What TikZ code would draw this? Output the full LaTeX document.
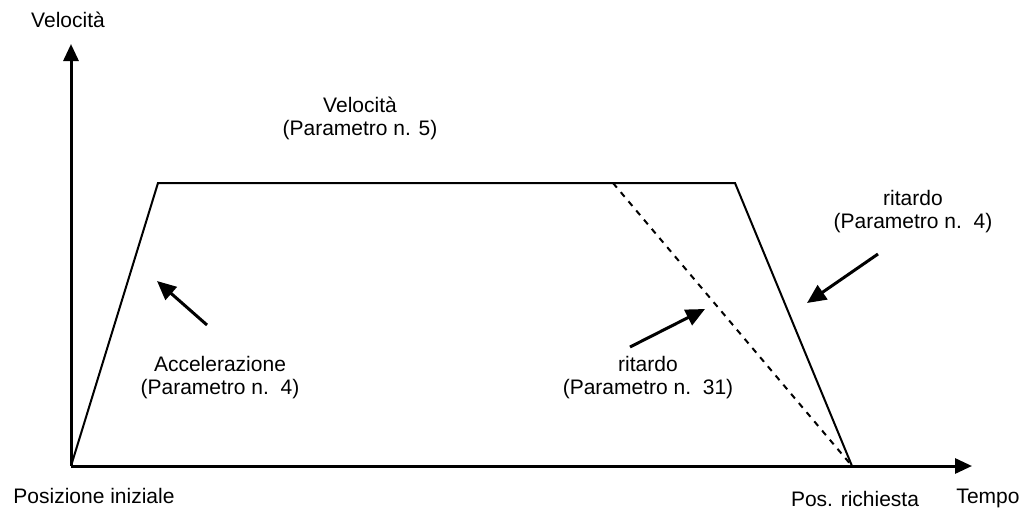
\documentclass[tikz,border=0pt]{standalone}
\usepackage{fontspec}
\setmainfont{Liberation Sans}
\usetikzlibrary{arrows.meta}
\begin{document}
\begin{tikzpicture}[x=1pt,y=-1pt,
  axis/.style={line width=3pt,-{Triangle[length=17pt,width=15pt]}},
  profile/.style={line width=2pt,line join=miter},
  hint/.style={line width=3pt,-{Triangle[length=19pt,width=17pt]}},
  lbl/.style={font=\fontsize{21}{23}\selectfont,align=center,inner sep=0pt,anchor=base}]
\useasboundingbox (0,0) rectangle (1021,509);
\coordinate (O) at (71,466);
\coordinate (Ytip) at (71,44);
\coordinate (Xtip) at (972,466);
\coordinate (A) at (158,183);
\coordinate (B) at (735,183);
\coordinate (C) at (852,466);
\coordinate (D) at (613,183);
\coordinate (a1) at (207,325);
\coordinate (a2) at (157,281);
\coordinate (m1) at (630,347);
\coordinate (m2) at (705,309);
\coordinate (r1) at (878,254);
\coordinate (r2) at (807,303);
\draw[profile] (O) -- (A) -- (B) -- (C);
\draw[line width=2pt,dash pattern=on 6pt off 6pt] (D) -- (C);
\draw[axis] (O) -- (Ytip);
\draw[axis] (O) -- (Xtip);
\draw[hint] (a1) -- (a2);
\draw[hint] (m1) -- (m2);
\draw[hint] (r1) -- (r2);
\node[lbl] (ylab) at (68,27) {Velocità};
\node[lbl] (vlab) at (360,135) {Velocità\\(Parametro n. 5)};
\node[lbl] (rlab) at (913,228) {ritardo\\(Parametro n.\ \ 4)};
\node[lbl] (alab) at (220,394) {Accelerazione\\(Parametro n.\ \ 4)};
\node[lbl] (mlab) at (648,394) {ritardo\\(Parametro n.\ \ 31)};
\node[lbl] (plab) at (94,503) {Posizione iniziale};
\node[lbl] (prlab) at (855,506) {Pos. richiesta};
\node[lbl] (tlab) at (988,503) {Tempo};
\end{tikzpicture}
\end{document}
